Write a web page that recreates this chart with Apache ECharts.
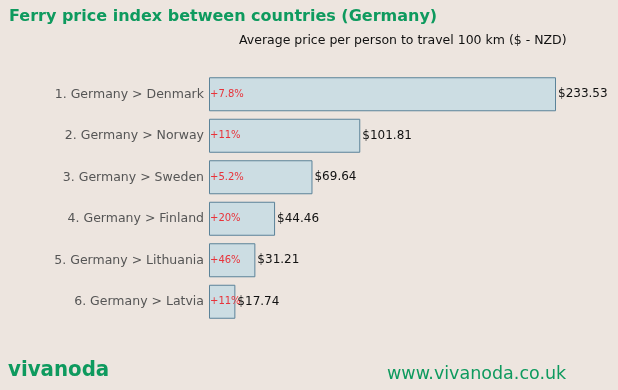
<!DOCTYPE html>
<html><head><meta charset="utf-8">
<script src="https://cdn.jsdelivr.net/npm/echarts@6/dist/echarts.min.js"></script>
<style>html,body{margin:0;padding:0;background:#ede5df;}#c{width:618px;height:390px;}</style>
</head><body><div id="c"></div>
<script>
const categories = ['1. Germany > Denmark','2. Germany > Norway','3. Germany > Sweden','4. Germany > Finland','5. Germany > Lithuania','6. Germany > Latvia'];
const prices = [233.53, 101.81, 69.64, 44.46, 31.21, 17.74];
const changes = ['+7.8%','+11%','+5.2%','+20%','+46%','+11%'];
const FONT = 'DejaVu Sans';
const chart = echarts.init(document.getElementById('c'), null, {renderer:'canvas'});
chart.setOption({
  backgroundColor:'#ede5df',
  animation:false,
  title:[
    {text:'Ferry price index between countries (Germany)', left:4, top:4, textStyle:{fontFamily:FONT, fontSize:16, fontWeight:'bold', color:'#0e9a5e'}},
    {text:'Average price per person to travel 100 km ($ - NZD)', left:234, top:29, textStyle:{fontFamily:FONT, fontSize:12.5, fontWeight:'normal', color:'#111'}}
  ],
  graphic:[
    {type:'text', left:8, top:359, style:{text:'vivanoda', fontFamily:'DejaVu Sans Condensed, DejaVu Sans', fontWeight:'bold', fontSize:22, fill:'#0e9a5e'}},
    {type:'text', left:387, top:365, style:{text:'www.vivanoda.co.uk', fontFamily:FONT, fontSize:17.5, fill:'#0e9a5e'}}
  ],
  grid:{left:209, width:347, top:73.5, height:249},
  xAxis:{type:'value', min:0, max:233.53, show:false},
  yAxis:{type:'category', data:categories, inverse:true,
    axisLine:{show:false}, axisTick:{show:false}, splitLine:{show:false},
    axisLabel:{fontFamily:FONT, fontSize:12.5, color:'#555', margin:5, padding:[10,0,0,0]}},
  series:[
    {type:'bar', data:prices, barWidth:34, barGap:'-100%',
      itemStyle:{color:'#ccdde3', borderColor:'#5b8399', borderWidth:1},
      label:{show:true, position:'right', distance:2, fontFamily:FONT, fontSize:12, color:'#111',
        formatter:p=>'$'+p.value.toFixed(2)}},
    {type:'bar', data:prices, barWidth:34, barGap:'-100%', silent:true,
      itemStyle:{color:'rgba(0,0,0,0)'},
      label:{show:true, position:'insideLeft', distance:1, fontFamily:FONT, fontSize:10, color:'#e8333a',
        formatter:p=>changes[p.dataIndex]}, z:5}
  ]
});
</script></body></html>
